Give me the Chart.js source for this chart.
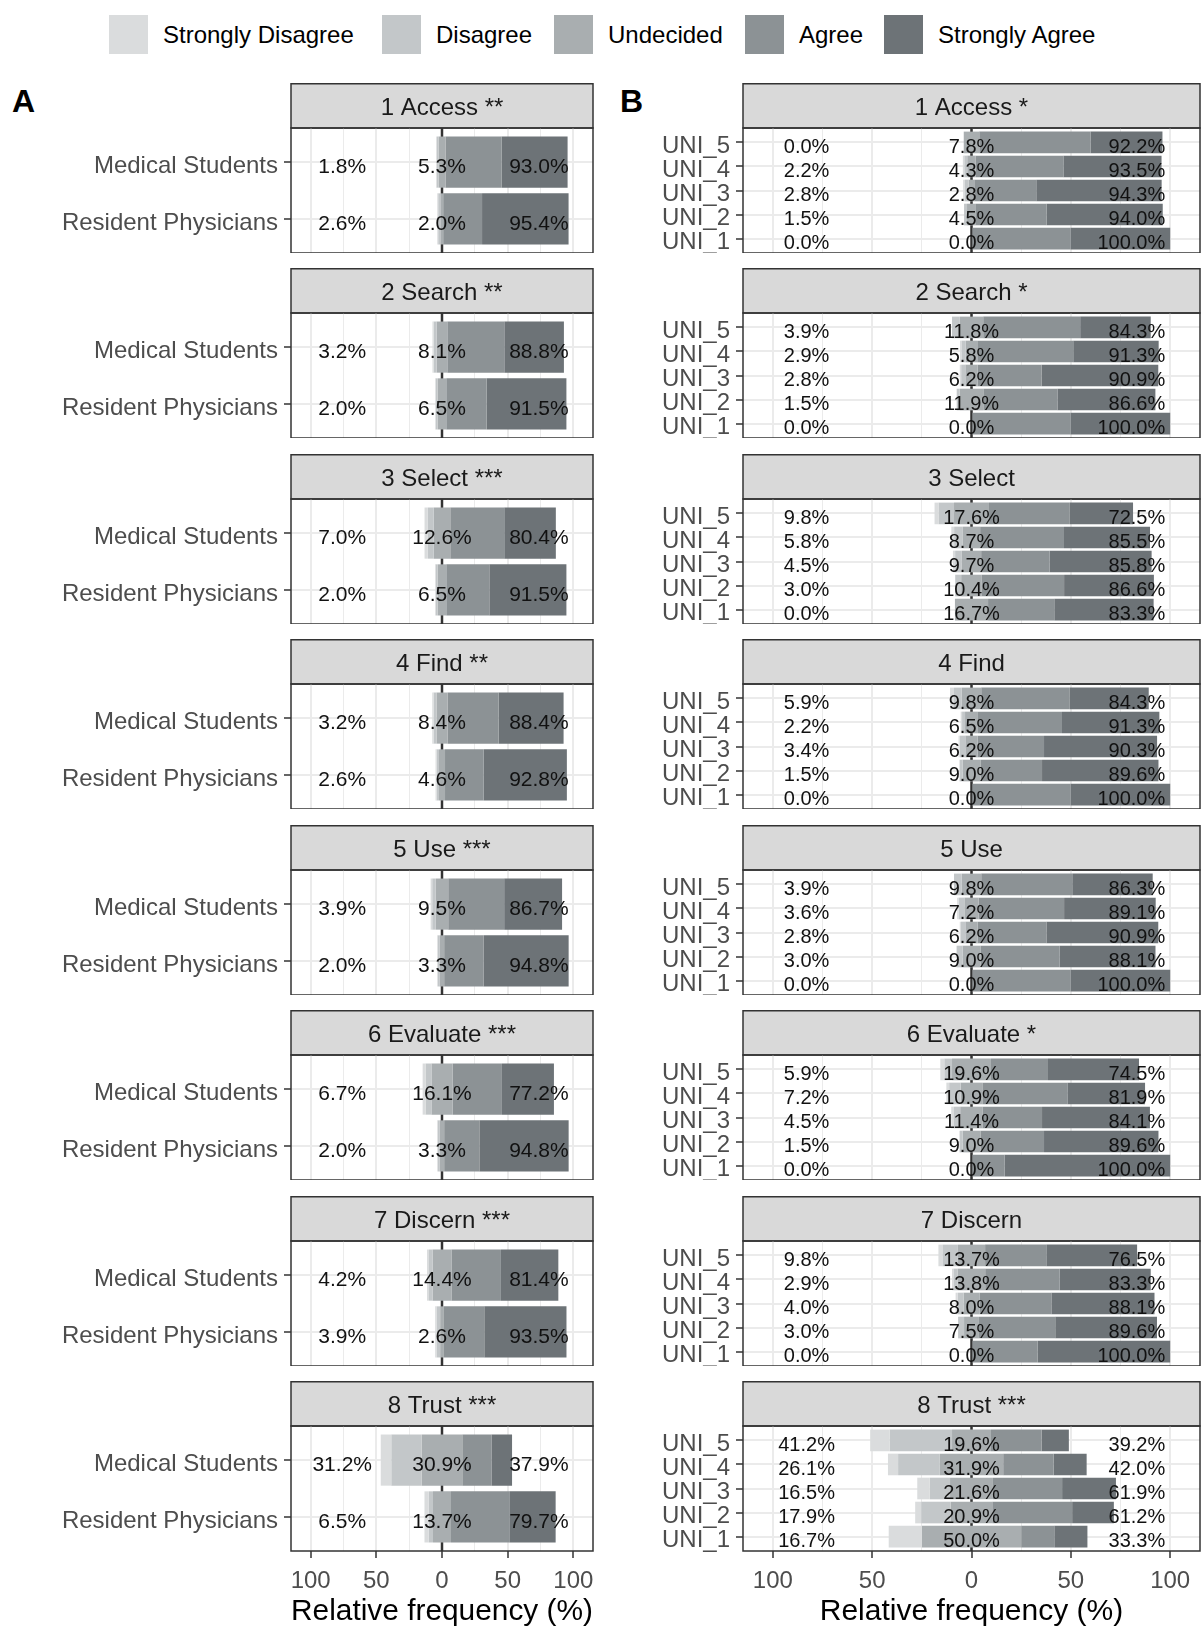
<!DOCTYPE html>
<html>
<head>
<meta charset="utf-8">
<script src="https://cdn.jsdelivr.net/npm/chart.js@4.4.1/dist/chart.umd.min.js"></script>
<style>
  html, body { margin: 0; padding: 0; background: #fff; }
  body { width: 1202px; height: 1627px; position: relative; overflow: hidden;
         font-family: "Liberation Sans", Arial, Helvetica, sans-serif; }
  canvas { position: absolute; }
  .legend-item { position: absolute; top: 15px; height: 39px; display: flex; align-items: center; }
  .legend-item .key { width: 39px; height: 39px; margin-right: 15px; flex: none; }
  .legend-item .lab { font-size: 24px; color: #000; white-space: nowrap; }
  .tag { position: absolute; font-weight: bold; font-size: 32px; line-height: 32px; color: #000; }
</style>
</head>
<body>
<div class="tag" style="left:12px; top:85px;">A</div>
<div class="tag" style="left:620px; top:85px;">B</div>
<script>
// Likert response levels and their fills
const levels = ['Strongly Disagree', 'Disagree', 'Undecided', 'Agree', 'Strongly Agree'];
const levelColors = ['#dadcdd', '#c3c7c9', '#a9aeb0', '#8c9295', '#6d7377'];

// Row labels of each panel (top to bottom)
const groupsA = ['Medical Students', 'Resident Physicians'];
const groupsB = ['UNI_5', 'UNI_4', 'UNI_3', 'UNI_2', 'UNI_1'];

// Panel titles
const itemsA = ['1 Access **', '2 Search **', '3 Select ***', '4 Find **', '5 Use ***', '6 Evaluate ***', '7 Discern ***', '8 Trust ***'];
const itemsB = ['1 Access *', '2 Search *', '3 Select', '4 Find', '5 Use', '6 Evaluate *', '7 Discern', '8 Trust ***'];

// x axis grid positions and labelled ticks
const xGrid = [-100, -75, -50, -25, 0, 25, 50, 75, 100];
const xLabelled = [-100, -50, 0, 50, 100];

// Column A: percentages per item, [Medical Students, Resident Physicians]
const sdA = [[0.6, 0.7], [0.9, 0.5], [2.5, 0.6], [1.0, 0.8], [1.2, 0.6], [2.2, 0.6], [1.5, 1.0], [8.0, 3.2]];
const dA  = [[1.2, 1.9], [2.3, 1.5], [4.5, 1.4], [2.2, 1.8], [2.7, 1.4], [4.5, 1.4], [2.7, 2.9], [23.2, 3.3]];
const uA  = [[5.3, 2.0], [8.1, 6.5], [12.6, 6.5], [8.4, 4.6], [9.5, 3.3], [16.1, 3.3], [14.4, 2.6], [30.9, 13.7]];
const aA  = [[42.8, 29.5], [43.4, 30.7], [41.1, 32.8], [38.9, 29.4], [42.6, 30.0], [37.6, 26.8], [37.7, 30.9], [22.2, 44.4]];
const saA = [[50.2, 65.9], [45.4, 60.8], [39.3, 58.7], [49.5, 63.4], [44.1, 64.8], [39.6, 68.0], [43.7, 62.6], [15.7, 35.3]];

// Column B: percentages per item, [UNI_5, UNI_4, UNI_3, UNI_2, UNI_1]
const sdB = [
  [0, 0.7, 0.9, 0, 0],
  [0, 0.7, 0.7, 0, 0],
  [2.0, 1.4, 1.1, 0, 0],
  [2.0, 0.7, 0.6, 0, 0],
  [0, 0.7, 0.6, 0, 0],
  [2.0, 1.4, 1.1, 0, 0],
  [2.0, 0.7, 1.1, 0, 0],
  [9.8, 5.1, 6.3, 3.0, 16.67]
];
const dB = [
  [0, 1.5, 1.9, 1.5, 0],
  [3.9, 2.2, 2.1, 1.5, 0],
  [7.8, 4.4, 3.4, 3.0, 0],
  [3.9, 1.5, 2.8, 1.5, 0],
  [3.9, 2.9, 2.2, 3.0, 0],
  [3.9, 5.8, 3.4, 1.5, 0],
  [7.8, 2.2, 2.9, 3.0, 0],
  [31.4, 21.0, 10.2, 14.9, 0]
];
const uB = [
  [7.8, 4.3, 2.8, 4.5, 0],
  [11.8, 5.8, 6.2, 11.9, 0],
  [17.6, 8.7, 9.7, 10.4, 16.67],
  [9.8, 6.5, 6.2, 9.0, 0],
  [9.8, 7.2, 6.2, 9.0, 0],
  [19.6, 10.9, 11.4, 9.0, 0],
  [13.7, 13.8, 8.0, 7.5, 0],
  [19.6, 31.9, 21.6, 20.9, 50.0]
];
const aB = [
  [56.1, 44.1, 31.2, 35.6, 50.0],
  [48.8, 48.3, 32.2, 37.3, 50.0],
  [40.7, 42.2, 34.5, 41.4, 33.33],
  [44.6, 42.3, 33.4, 31.0, 50.0],
  [45.8, 43.0, 34.6, 39.9, 50.0],
  [28.7, 42.8, 29.8, 32.0, 16.67],
  [30.8, 37.5, 36.2, 38.4, 33.33],
  [25.5, 25.4, 34.8, 40.2, 16.67]
];
const saB = [
  [36.1, 49.4, 63.1, 58.4, 50.0],
  [35.5, 43.0, 58.7, 49.3, 50.0],
  [31.8, 43.3, 51.3, 45.2, 50.0],
  [39.7, 49.0, 56.9, 58.6, 50.0],
  [40.5, 46.1, 56.3, 48.2, 50.0],
  [45.8, 39.1, 54.3, 57.6, 83.33],
  [45.7, 45.8, 51.9, 51.2, 66.67],
  [13.7, 16.6, 27.1, 21.0, 16.67]
];

const FONT = '"Liberation Sans", Arial, Helvetica, sans-serif';
Chart.defaults.font.family = FONT;

// Legend row across the top
const legendLefts = [109, 382, 554, 745, 884];
levels.forEach((lv, k) => {
  const item = document.createElement('div');
  item.className = 'legend-item';
  item.style.left = legendLefts[k] + 'px';
  const key = document.createElement('div');
  key.className = 'key';
  key.style.background = levelColors[k];
  const lab = document.createElement('div');
  lab.className = 'lab';
  lab.textContent = lv;
  item.appendChild(key);
  item.appendChild(lab);
  document.body.appendChild(item);
});

const fmt = v => (Math.round(v * 10) / 10).toFixed(1) + '%';

// Facet geometry and per-column text placement (x in axis units)
const STRIP_H = 45, PANEL_H = 125, FIRST_TOP = 82.8, STEP = 185.5, PAGE_H = 1627, AXIS_H = 76;
const columns = {
  A: { left: 0, width: 600, axisW: 291, rightPad: 7, lowAt: -76, highAt: 96.5, labelSize: 21 },
  B: { left: 600, width: 602, axisW: 143, rightPad: 2, lowAt: -83, highAt: 97.5, labelSize: 20 }
};

function drawPanel(colKey, idx, title, groups, sd, d, u, a, sa) {
  const col = columns[colKey];
  const top = Math.round(FIRST_TOP + STEP * idx);
  const showAxis = idx === 7;
  const height = showAxis ? PAGE_H - top : STRIP_H + PANEL_H;

  const canvas = document.createElement('canvas');
  canvas.width = col.width;
  canvas.height = height;
  canvas.style.left = col.left + 'px';
  canvas.style.top = top + 'px';
  document.body.appendChild(canvas);

  // Cumulative boundaries, neutral share centred on zero
  const bounds = groups.map((g, i) => {
    const h = u[i] / 2;
    return [-(h + d[i] + sd[i]), -(h + d[i]), -h, h, h + a[i], h + a[i] + sa[i]];
  });

  const datasets = levels.map((lv, k) => ({
    label: lv,
    backgroundColor: levelColors[k],
    borderWidth: 0,
    grouped: false,
    barPercentage: 0.9,
    categoryPercentage: 1,
    data: groups.map((g, i) => ({ x: [bounds[i][k], bounds[i][k + 1]], y: i + 1 }))
  }));

  const facetPlugin = {
    id: 'facet',
    beforeDraw(chart) {
      const { ctx, chartArea: ca } = chart;
      ctx.save();
      ctx.fillStyle = '#d9d9d9';
      ctx.fillRect(ca.left, 0.75, ca.right - ca.left, ca.top - 0.75);
      ctx.strokeStyle = '#333';
      ctx.lineWidth = 1.5;
      ctx.strokeRect(ca.left, 0.75, ca.right - ca.left, ca.top - 0.75);
      ctx.fillStyle = '#1a1a1a';
      ctx.font = '24px ' + FONT;
      ctx.textAlign = 'center';
      ctx.textBaseline = 'middle';
      ctx.fillText(title, (ca.left + ca.right) / 2, ca.top / 2 + 3);
      ctx.restore();
    },
    beforeDatasetsDraw(chart) {
      const { ctx, chartArea: ca, scales: { x } } = chart;
      const x0 = x.getPixelForValue(0);
      ctx.save();
      ctx.strokeStyle = '#333';
      ctx.lineWidth = 2.5;
      ctx.beginPath();
      ctx.moveTo(x0, ca.top);
      ctx.lineTo(x0, ca.bottom);
      ctx.stroke();
      ctx.restore();
    },
    afterDatasetsDraw(chart) {
      const { ctx, scales: { x, y } } = chart;
      ctx.save();
      ctx.fillStyle = '#111';
      ctx.font = col.labelSize + 'px ' + FONT;
      ctx.textBaseline = 'middle';
      groups.forEach((g, i) => {
        const py = y.getPixelForValue(i + 1) + 5;
        ctx.textAlign = 'center';
        ctx.fillText(fmt(sd[i] + d[i]), x.getPixelForValue(col.lowAt), py);
        ctx.fillText(fmt(u[i]), x.getPixelForValue(0), py);
        ctx.textAlign = 'right';
        ctx.fillText(fmt(a[i] + sa[i]), x.getPixelForValue(col.highAt), py);
      });
      ctx.restore();
    },
    afterDraw(chart) {
      const { ctx, chartArea: ca } = chart;
      ctx.save();
      ctx.strokeStyle = '#333';
      ctx.lineWidth = 1.5;
      ctx.strokeRect(ca.left, ca.top, ca.right - ca.left, ca.bottom - ca.top);
      ctx.restore();
    }
  };

  new Chart(canvas, {
    type: 'bar',
    data: { datasets },
    options: {
      indexAxis: 'y',
      responsive: false,
      animation: false,
      events: [],
      layout: { padding: { top: STRIP_H, right: col.rightPad, left: 0, bottom: 0 } },
      plugins: { legend: { display: false }, tooltip: { enabled: false } },
      scales: {
        x: {
          type: 'linear',
          min: -115,
          max: 115,
          offset: false,
          afterBuildTicks: ax => { ax.ticks = xGrid.map(v => ({ value: v })); },
          ticks: {
            display: showAxis,
            autoSkip: false,
            maxRotation: 0,
            padding: 9,
            color: '#4d4d4d',
            font: { size: 24 },
            callback: v => (xLabelled.includes(v) ? String(Math.abs(v)) : '')
          },
          grid: {
            offset: false,
            color: '#ebebeb',
            lineWidth: c => (c.tick && xLabelled.includes(c.tick.value) ? 2 : 1),
            drawTicks: showAxis,
            tickLength: 7,
            tickWidth: 1.5,
            tickColor: c => (c.tick && xLabelled.includes(c.tick.value) ? '#333' : 'rgba(0,0,0,0)')
          },
          border: { display: false },
          title: {
            display: showAxis,
            text: 'Relative frequency (%)',
            color: '#000',
            font: { size: 30, lineHeight: 1 },
            padding: { top: 0, bottom: 0 }
          },
          afterFit: s => { s.height = showAxis ? AXIS_H : 0; s.paddingLeft = 0; s.paddingRight = 0; }
        },
        y: {
          type: 'linear',
          reverse: true,
          offset: false,
          min: 0.4,
          max: groups.length + 0.6,
          afterBuildTicks: ax => { ax.ticks = groups.map((g, i) => ({ value: i + 1 })); },
          ticks: {
            autoSkip: false,
            padding: 6,
            labelOffset: 4,
            color: '#4d4d4d',
            font: { size: 24 },
            callback: v => groups[v - 1]
          },
          grid: {
            offset: false,
            color: '#ebebeb',
            lineWidth: 2,
            drawTicks: true,
            tickLength: 7,
            tickWidth: 1.5,
            tickColor: '#333'
          },
          border: { display: false },
          afterFit: s => { s.width = col.axisW; s.paddingTop = 0; s.paddingBottom = 0; }
        }
      }
    },
    plugins: [facetPlugin]
  });
}

itemsA.forEach((t, i) => drawPanel('A', i, t, groupsA, sdA[i], dA[i], uA[i], aA[i], saA[i]));
itemsB.forEach((t, i) => drawPanel('B', i, t, groupsB, sdB[i], dB[i], uB[i], aB[i], saB[i]));
</script>
</body>
</html>
